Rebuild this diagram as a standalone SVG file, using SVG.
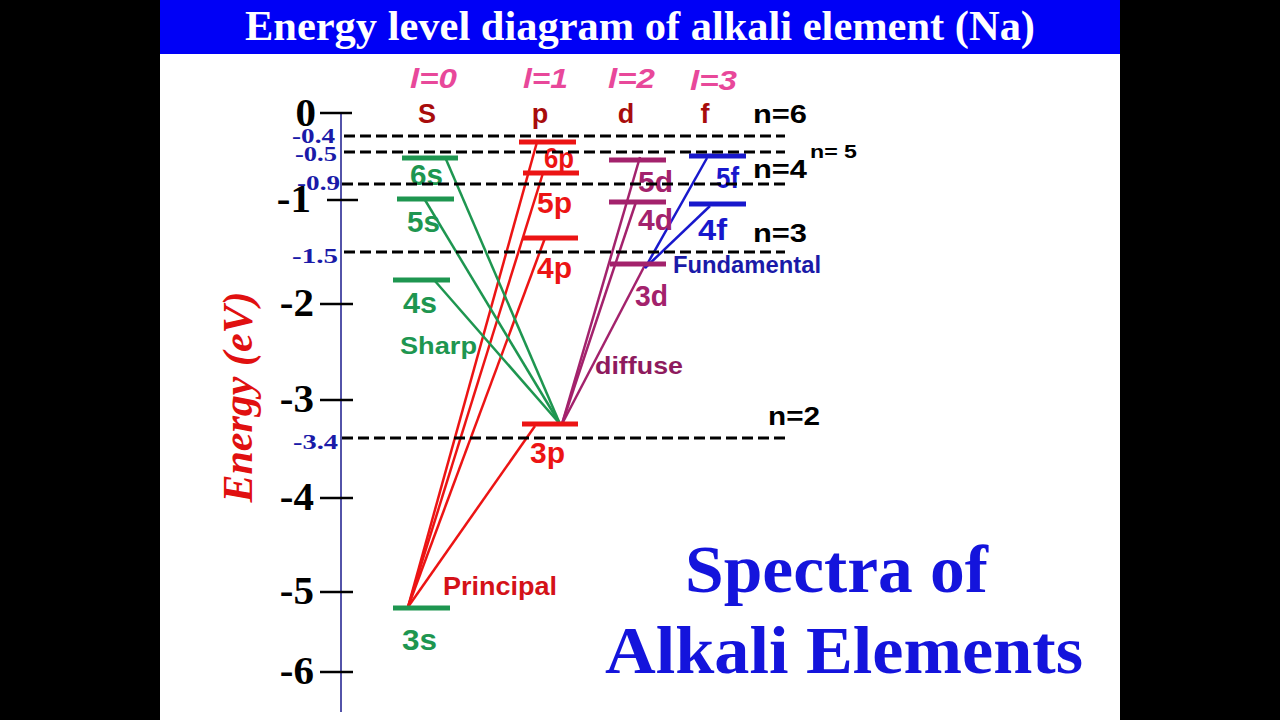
<svg xmlns="http://www.w3.org/2000/svg" width="1280" height="720" viewBox="0 0 1280 720">
<style>
.serif{font-family:"Liberation Serif","Times New Roman",serif;font-weight:bold}
.sans{font-family:"Liberation Sans",Arial,sans-serif;font-weight:bold}
.tick{stroke:#000;stroke-width:2.5}
.num{font-size:41px;fill:#000;text-anchor:end}
.ev{font-size:22px;fill:#1a1aa8}
.dash{stroke:#000;stroke-width:3;stroke-dasharray:11 5;fill:none}
.bar{stroke-width:5;fill:none}
.tr{stroke-width:2.5;fill:none}
.lvl{font-size:29px}
.g{stroke:#1e9650;fill:#1e9650}
.r{stroke:#ec1414;fill:#ec1414}
.m{stroke:#a3226c;fill:#a3226c}
.b{stroke:#1818cc;fill:#1818cc}
text.g,text.r,text.m,text.b{stroke:none}
.hdr{font-size:27px;fill:#a80c0c;text-anchor:middle}
.nlab{font-size:25px;fill:#000}
.ell{font-family:"Liberation Sans",Arial,sans-serif;font-style:italic;font-weight:bold;font-size:28px;fill:#e8489a}
</style>
<rect x="0" y="0" width="1280" height="720" fill="#000"/>
<rect x="160" y="0" width="960" height="720" fill="#fff"/>
<rect x="160" y="0" width="960" height="54" fill="#0000f6"/>
<text class="serif" x="245" y="40" font-size="42" fill="#fff" textLength="790" lengthAdjust="spacingAndGlyphs">Energy level diagram of alkali element (Na)</text>

<g id="axis">
<line x1="341" y1="113" x2="341" y2="712" stroke="#1a1a8c" stroke-width="1.5"/>
<line class="tick" x1="320" y1="113" x2="352" y2="113"/>
<line class="tick" x1="327" y1="200" x2="358" y2="200"/>
<line class="tick" x1="320" y1="304" x2="353" y2="304"/>
<line class="tick" x1="320" y1="400" x2="353" y2="400"/>
<line class="tick" x1="320" y1="498" x2="353" y2="498"/>
<line class="tick" x1="320" y1="592" x2="353" y2="592"/>
<line class="tick" x1="320" y1="672" x2="353" y2="672"/>
<text class="serif num" x="316" y="126">0</text>
<text class="serif num" x="311" y="212">-1</text>
<text class="serif num" x="314" y="316">-2</text>
<text class="serif num" x="314" y="412">-3</text>
<text class="serif num" x="314" y="510">-4</text>
<text class="serif num" x="314" y="604">-5</text>
<text class="serif num" x="314" y="684">-6</text>
<text class="serif ev" x="292" y="143" textLength="43" lengthAdjust="spacingAndGlyphs">-0.4</text>
<text class="serif ev" x="295" y="161" textLength="42" lengthAdjust="spacingAndGlyphs">-0.5</text>
<text class="serif ev" x="297" y="190" textLength="43" lengthAdjust="spacingAndGlyphs">-0.9</text>
<text class="serif ev" x="292" y="263" textLength="46" lengthAdjust="spacingAndGlyphs">-1.5</text>
<text class="serif ev" x="293" y="449" textLength="45" lengthAdjust="spacingAndGlyphs">-3.4</text>
<text class="serif" transform="translate(252,397) rotate(-90)" text-anchor="middle" font-size="42" font-style="italic" fill="#e01010">Energy (eV)</text>
</g>

<g id="headers">
<text class="ell" x="410" y="88" textLength="47" lengthAdjust="spacingAndGlyphs">l=0</text>
<text class="ell" x="523" y="88" textLength="45" lengthAdjust="spacingAndGlyphs">l=1</text>
<text class="ell" x="608" y="88" textLength="47" lengthAdjust="spacingAndGlyphs">l=2</text>
<text class="ell" x="690" y="90" textLength="47" lengthAdjust="spacingAndGlyphs">l=3</text>
<text class="sans hdr" x="427" y="123">S</text>
<text class="sans hdr" x="540" y="123">p</text>
<text class="sans hdr" x="626" y="123">d</text>
<text class="sans hdr" x="705" y="123">f</text>
</g>

<g id="connectors">
<line class="tr r" x1="408" y1="607" x2="537" y2="142"/>
<line class="tr r" x1="408" y1="607" x2="543" y2="173"/>
<line class="tr r" x1="408" y1="607" x2="545" y2="238"/>
<line class="tr r" x1="408" y1="607" x2="535" y2="426"/>
<line class="tr g" x1="445" y1="157" x2="560" y2="424"/>
<line class="tr g" x1="425" y1="200" x2="560" y2="424"/>
<line class="tr g" x1="435" y1="281" x2="560" y2="424"/>
<line class="tr m" x1="562" y1="424" x2="640" y2="157"/>
<line class="tr m" x1="562" y1="424" x2="636" y2="202"/>
<line class="tr m" x1="562" y1="424" x2="645" y2="265"/>
<line class="tr b" x1="645" y1="268" x2="707" y2="158"/>
<line class="tr b" x1="645" y1="268" x2="710" y2="206"/>
</g>

<g id="level-6s"><line class="bar g" x1="402" y1="158" x2="458" y2="158"/><text class="sans lvl g" x="410" y="185" textLength="33" lengthAdjust="spacingAndGlyphs">6s</text></g>
<g id="level-5s"><line class="bar g" x1="397" y1="199" x2="454" y2="199"/><text class="sans lvl g" x="407" y="232" textLength="33" lengthAdjust="spacingAndGlyphs">5s</text></g>
<g id="level-4s"><line class="bar g" x1="393" y1="280" x2="450" y2="280"/><text class="sans lvl g" x="403" y="313" textLength="34" lengthAdjust="spacingAndGlyphs">4s</text></g>
<g id="level-3s"><line class="bar g" x1="393" y1="608" x2="450" y2="608"/><text class="sans lvl g" x="402" y="650" textLength="35" lengthAdjust="spacingAndGlyphs">3s</text></g>

<g id="level-6p"><line class="bar r" x1="519" y1="142" x2="576" y2="142"/><text class="sans lvl r" x="544" y="168" textLength="30" lengthAdjust="spacingAndGlyphs">6p</text></g>
<g id="level-5p"><line class="bar r" x1="523" y1="173" x2="579" y2="173"/><text class="sans lvl r" x="537" y="213" textLength="35" lengthAdjust="spacingAndGlyphs">5p</text></g>
<g id="level-4p"><line class="bar r" x1="523" y1="238" x2="578" y2="238"/><text class="sans lvl r" x="537" y="278" textLength="35" lengthAdjust="spacingAndGlyphs">4p</text></g>
<g id="level-3p"><line class="bar r" x1="522" y1="424" x2="578" y2="424"/><text class="sans lvl r" x="530" y="463" textLength="35" lengthAdjust="spacingAndGlyphs">3p</text></g>

<g id="level-5d"><line class="bar m" x1="609" y1="160" x2="666" y2="160"/><text class="sans lvl m" x="638" y="192" textLength="35" lengthAdjust="spacingAndGlyphs">5d</text></g>
<g id="level-4d"><line class="bar m" x1="609" y1="202" x2="666" y2="202"/><text class="sans lvl m" x="638" y="230" textLength="35" lengthAdjust="spacingAndGlyphs">4d</text></g>
<g id="level-3d"><line class="bar m" x1="610" y1="264" x2="666" y2="264"/><text class="sans lvl m" x="635" y="306" textLength="33" lengthAdjust="spacingAndGlyphs">3d</text></g>

<g id="level-5f"><line class="bar b" x1="689" y1="156" x2="746" y2="156"/><text class="sans lvl b" x="716" y="188" textLength="23" lengthAdjust="spacingAndGlyphs">5f</text></g>
<g id="level-4f"><line class="bar b" x1="689" y1="204" x2="746" y2="204"/><text class="sans lvl b" x="698" y="240" textLength="29" lengthAdjust="spacingAndGlyphs">4f</text></g>

<g id="series-labels">
<text class="sans" x="400" y="354" font-size="24" fill="#1e9650" textLength="77" lengthAdjust="spacingAndGlyphs">Sharp</text>
<text class="sans" x="443" y="595" font-size="25" fill="#d41218" textLength="114" lengthAdjust="spacingAndGlyphs">Principal</text>
<text class="sans" x="595" y="374" font-size="24" fill="#8e1a5e" textLength="88" lengthAdjust="spacingAndGlyphs">diffuse</text>
<text class="sans" x="673" y="273" font-size="23" fill="#1a1aa8" textLength="148" lengthAdjust="spacingAndGlyphs">Fundamental</text>
</g>

<g id="shells">
<line class="dash" x1="344" y1="136" x2="785" y2="136"/>
<line class="dash" x1="344" y1="152" x2="785" y2="152"/>
<line class="dash" x1="342" y1="184" x2="785" y2="184"/>
<line class="dash" x1="344" y1="252" x2="785" y2="252"/>
<line class="dash" x1="342" y1="438" x2="785" y2="438"/>
<text class="sans nlab" x="753" y="123" textLength="54" lengthAdjust="spacingAndGlyphs">n=6</text>
<text class="sans" x="810" y="158" font-size="18" fill="#000" textLength="47" lengthAdjust="spacingAndGlyphs">n= 5</text>
<text class="sans nlab" x="753" y="178" textLength="54" lengthAdjust="spacingAndGlyphs">n=4</text>
<text class="sans nlab" x="753" y="242" textLength="54" lengthAdjust="spacingAndGlyphs">n=3</text>
<text class="sans nlab" x="768" y="425" textLength="52" lengthAdjust="spacingAndGlyphs">n=2</text>
</g>

<g id="caption">
<text class="serif" x="685" y="592" font-size="68" fill="#1414dc" textLength="303" lengthAdjust="spacingAndGlyphs">Spectra of</text>
<text class="serif" x="605" y="673" font-size="68" fill="#1414dc" textLength="478" lengthAdjust="spacingAndGlyphs">Alkali Elements</text>
</g>
</svg>
